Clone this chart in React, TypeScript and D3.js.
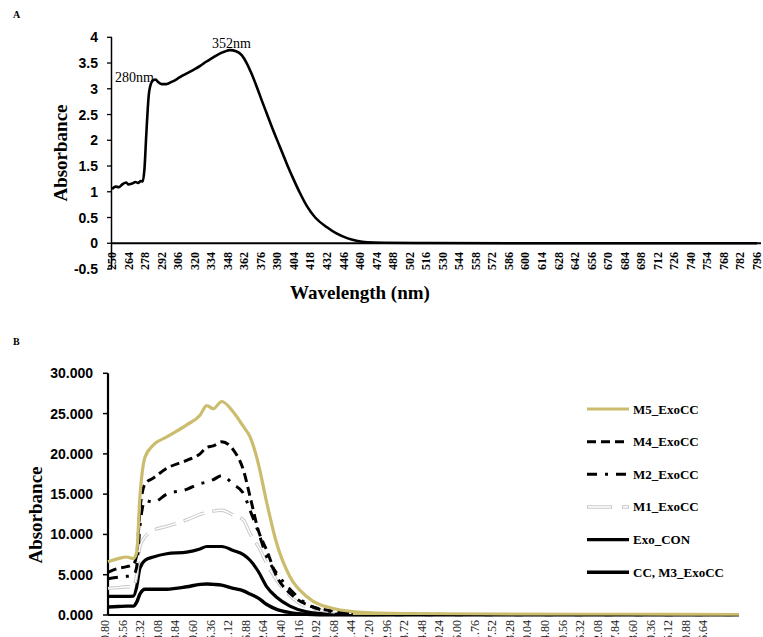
import React from 'react'
import * as d3 from 'd3'

// Panel A: absorbance spectrum (nm, value)
const aWave = [250, 253, 256, 259, 262, 264, 267, 270, 272, 274.5, 276, 277.5, 279, 281, 283, 285, 287, 289, 292, 296, 300, 305, 310, 315, 320, 325, 330, 335, 340, 345, 350, 355, 360, 364, 368, 372.5, 377, 381, 386, 392, 398, 403.5, 409, 415, 422, 432, 440, 449, 457, 466, 480, 520, 600, 700, 796]
const aValue = [1.05, 1.1, 1.09, 1.15, 1.18, 1.14, 1.16, 1.19, 1.17, 1.21, 1.2, 1.45, 2.1, 2.85, 3.1, 3.17, 3.18, 3.13, 3.09, 3.09, 3.13, 3.19, 3.26, 3.32, 3.38, 3.45, 3.53, 3.6, 3.67, 3.72, 3.75, 3.73, 3.65, 3.5, 3.3, 3.04, 2.76, 2.52, 2.22, 1.88, 1.54, 1.25, 0.98, 0.72, 0.5, 0.31, 0.19, 0.1, 0.05, 0.02, 0.01, 0.005, 0, 0, 0]
const aTicks = [250, 264, 278, 292, 306, 320, 334, 348, 362, 376, 390, 404, 418, 432, 446, 460, 474, 488, 502, 516, 530, 544, 558, 572, 586, 600, 614, 628, 642, 656, 670, 684, 698, 712, 726, 740, 754, 768, 782, 796]
const aYTicks = [-0.5, 0, 0.5, 1, 1.5, 2, 2.5, 3, 3.5, 4]

// Panel B: six samples on a shared wavelength grid
const bWave = [200.8, 210, 217.5, 223.5, 226.5, 229.4, 234, 241.4, 253.4, 271.3, 283.2, 289.2, 295.1, 302.6, 313, 322, 328, 335.4, 343, 351.8, 363.7, 378.7, 402.5, 432.4, 480, 560, 660, 765.8]
const m5 = [6.6, 7.0, 7.2, 7.0, 7.8, 14.7, 19.6, 21.1, 22.1, 23.6, 24.8, 26.0, 25.6, 26.5, 25.2, 23.4, 22.1, 18.8, 13.9, 8.9, 4.75, 2.3, 0.8, 0.3, 0.15, 0.1, 0.08, 0.05]
const m4 = [5.3, 5.8, 6.0, 6.3, 7.5, 13, 16.3, 17.0, 18.2, 19.2, 20.0, 20.8, 21.0, 21.5, 20.5, 18.0, 14.7, 10.5, 8.0, 4.8, 2.7, 1.3, 0.5, 0.2, 0.1, 0.05, 0.05, 0.05]
const m2 = [4.5, 4.7, 4.8, 4.9, 6.0, 11, 14.2, 14.0, 15.0, 15.6, 16.3, 16.5, 16.8, 17.3, 16.2, 15.1, 13.0, 10.3, 7.2, 5.2, 3.2, 1.4, 0.4, 0.15, 0.05, 0.05, 0.05, 0.05]
const m1 = [3.3, 3.4, 3.5, 3.5, 5.0, 8.5, 9.7, 10.5, 11.0, 11.8, 12.5, 12.7, 12.9, 13.0, 12.4, 11.8, 10.1, 8.5, 6.4, 4.3, 2.4, 1.0, 0.4, 0.1, 0.05, 0.05, 0.05, 0.05]
const exoCon = [2.3, 2.3, 2.3, 2.35, 3.5, 5.8, 6.8, 7.2, 7.6, 7.8, 8.2, 8.5, 8.5, 8.5, 8.0, 7.5, 6.8, 5.4, 3.5, 2.2, 1.1, 0.4, 0.1, 0.05, 0.03, 0.03, 0.03, 0.03]
const ccM3 = [1.0, 1.05, 1.1, 1.1, 1.6, 2.6, 3.2, 3.2, 3.2, 3.5, 3.8, 3.85, 3.8, 3.7, 3.3, 3.0, 2.6, 2.1, 1.3, 0.7, 0.3, 0.1, 0.03, 0.02, 0.02, 0.02, 0.02, 0.02]
const bTicks = ['200.80', '216.56', '232.32', '248.08', '263.84', '279.60', '295.36', '311.12', '326.88', '342.64', '358.40', '374.16', '389.92', '405.68', '421.44', '437.20', '452.96', '468.72', '484.48', '500.24', '516.00', '531.76', '547.52', '563.28', '579.04', '594.80', '610.56', '626.32', '642.08', '657.84', '673.60', '689.36', '705.12', '720.88', '736.64']
const bYTicks = [0, 5, 10, 15, 20, 25, 30]

const GOLD = '#cbbd6d'
const series = [
  { name: 'M5_ExoCC', values: m5, color: GOLD, width: 3.2, dash: '' },
  { name: 'M4_ExoCC', values: m4, color: '#000', width: 3, dash: '9,5' },
  { name: 'M2_ExoCC', values: m2, color: '#000', width: 3, dash: '10,8,3,8' },
  { name: 'M1_ExoCC', values: m1, color: '#c9c9c9', width: 3.4, dash: '22,8', hollow: true },
  { name: 'Exo_CON', values: exoCon, color: '#000', width: 3.2, dash: '' },
  { name: 'CC, M3_ExoCC', values: ccM3, color: '#000', width: 3.4, dash: '' },
]

const serif = '"Liberation Serif", "Times New Roman", serif'
const sans = '"Liberation Sans", Arial, sans-serif'

export default function App() {
  // panel A scales
  const xA = d3.scaleLinear().domain([250, 796]).range([112, 757])
  const yA = d3.scaleLinear().domain([-0.5, 4]).range([269, 37.3])
  const lineA = d3.line<number>().x((_, i) => xA(aWave[i])).y(d => yA(d)).curve(d3.curveMonotoneX)

  // panel B scales
  const xB = d3.scaleLinear().domain([200.8, 765.8]).range([108, 739])
  const yB = d3.scaleLinear().domain([0, 30]).range([615, 373.3])
  const lineB = d3.line<number>().x((_, i) => xB(bWave[i])).y(d => yB(d)).curve(d3.curveMonotoneX)
  const bStep = 17.6

  const legendY = d3.scalePoint<string>().domain(series.map(s => s.name)).range([409, 572.3])

  return (
    <svg width={763} height={637} style={{ position: 'absolute', left: 0, top: 0, background: '#fff' }}>
      {/* ---------- A ---------- */}
      <text x={13} y={18} fontFamily={serif} fontWeight="bold" fontSize={10}>A</text>
      <line x1={xA(250) - 0.5} x2={xA(250) - 0.5} y1={yA(4)} y2={yA(-0.5)} stroke="#000" strokeWidth={1.5} />
      {aYTicks.map(t => (
        <g key={t}>
          <line x1={xA(250) - 5} x2={xA(250)} y1={yA(t)} y2={yA(t)} stroke="#000" strokeWidth={1.3} />
          <text x={98} y={yA(t) + 5} textAnchor="end" fontFamily={sans} fontWeight="bold" fontSize={14}>{t}</text>
        </g>
      ))}
      <line x1={xA(250) - 1} x2={761} y1={yA(0)} y2={yA(0)} stroke="#000" strokeWidth={1.8} />
      {aTicks.map(t => (
        <text key={t} transform={`translate(${xA(t) + 4},252) rotate(-90)`} textAnchor="end"
          fontFamily={serif} fontWeight="bold" fontSize={12}>{t}</text>
      ))}
      <path d={lineA(aValue) || ''} fill="none" stroke="#000" strokeWidth={2.6} strokeLinejoin="round" />
      <text x={115} y={82} fontFamily={serif} fontSize={14}>280nm</text>
      <text x={212} y={48} fontFamily={serif} fontSize={14}>352nm</text>
      <text transform="translate(67,153) rotate(-90)" textAnchor="middle" fontFamily={serif} fontWeight="bold" fontSize={19}>Absorbance</text>
      <text x={360} y={299} textAnchor="middle" fontFamily={serif} fontWeight="bold" fontSize={19}>Wavelength (nm)</text>

      {/* ---------- B ---------- */}
      <text x={13} y={345} fontFamily={serif} fontWeight="bold" fontSize={10}>B</text>
      <line x1={108} x2={108} y1={yB(30)} y2={yB(0)} stroke="#000" strokeWidth={2.2} />
      {bYTicks.map(t => (
        <g key={t}>
          <line x1={103} x2={108} y1={yB(t)} y2={yB(t)} stroke="#000" strokeWidth={1.5} />
          <text x={93} y={yB(t) + 5} textAnchor="end" fontFamily={sans} fontWeight="bold" fontSize={14}>{d3.format('.3f')(t)}</text>
        </g>
      ))}
      {/* category labels run off the bottom edge, as in the original figure */}
      {bTicks.map((t, i) => (
        <text key={t} transform={`translate(${105 + i * bStep + 4},620) rotate(-90)`} textAnchor="end"
          fontFamily={serif} fontSize={12} fill="#222">{t}</text>
      ))}
      {[...series].reverse().map(s => (
        <g key={s.name}>
          <path d={lineB(s.values) || ''} fill="none" stroke={s.color} strokeWidth={s.width}
            strokeDasharray={s.dash || undefined} strokeLinejoin="round" />
          {s.hollow && (
            <path d={lineB(s.values) || ''} fill="none" stroke="#fff" strokeWidth={1.4}
              strokeDasharray={s.dash} strokeDashoffset={-0.8} strokeLinejoin="round" />
          )}
        </g>
      ))}
      <line x1={108} x2={739} y1={yB(0)} y2={yB(0)} stroke="#000" strokeWidth={2} />
      <path d={lineB(m5.map(v => Math.min(v, 0.15))) || ''} fill="none" stroke={GOLD} strokeWidth={2.5}
        strokeDasharray={`0,${xB(420) - 108},2000`} />
      <text transform="translate(42,515) rotate(-90)" textAnchor="middle" fontFamily={serif} fontWeight="bold" fontSize={19}>Absorbance</text>

      {/* legend */}
      {series.map(s => {
        const y = legendY(s.name) || 0
        return (
          <g key={s.name}>
            <line x1={587} x2={629} y1={y} y2={y} stroke={s.color} strokeWidth={s.width}
              strokeDasharray={s.hollow ? '25,10' : s.dash || undefined} />
            {s.hollow && <line x1={588} x2={628} y1={y} y2={y} stroke="#fff" strokeWidth={1.4} strokeDasharray="23,12" />}
            <text x={633} y={y + 4.5} fontFamily={serif} fontWeight="bold" fontSize={13}>{s.name}</text>
          </g>
        )
      })}
    </svg>
  )
}
